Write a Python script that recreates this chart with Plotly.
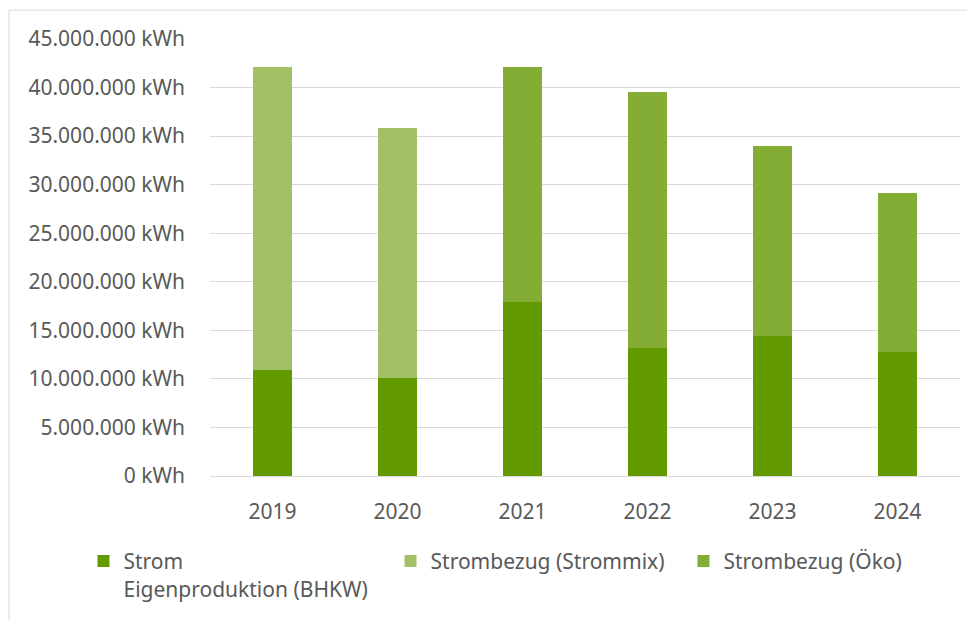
import plotly.graph_objects as go

years = ["2019", "2020", "2021", "2022", "2023", "2024"]
eigen = [10.9e6, 10.06e6, 17.95e6, 13.2e6, 14.45e6, 12.8e6]
strommix = [31.25e6, 25.78e6, None, None, None, None]
oeko = [None, None, 24.2e6, 26.3e6, 19.5e6, 16.3e6]
names = ["Strom<br>Eigenproduktion (BHKW)", "Strombezug (Strommix)", "Strombezug (Öko)"]
colors = ["#639a00", "#a2c167", "#84ad35"]
tickvals = [i * 5e6 for i in range(10)]
ticktext = ["0 kWh", "5.000.000 kWh", "10.000.000 kWh", "15.000.000 kWh",
            "20.000.000 kWh", "25.000.000 kWh", "30.000.000 kWh",
            "35.000.000 kWh", "40.000.000 kWh", "45.000.000 kWh"]

FONT = "Noto Sans"
GREY = "#595959"
FS = 21

legend_ids = ["legend", "legend2", "legend3"]
legend_x = [-0.1687, 0.2407, 0.6313]

fig = go.Figure()
for vals, name, col, lid in zip([eigen, strommix, oeko], names, colors, legend_ids):
    fig.add_trace(go.Bar(x=years, y=vals, name=name, marker_color=col,
                         marker_line_width=0, width=0.31, legend=lid))

leg_common = dict(orientation="h", xanchor="left", y=-0.1486, yanchor="top",
                  font=dict(family=FONT, size=FS, color=GREY),
                  itemwidth=30, valign="top", bgcolor="rgba(0,0,0,0)")
fig.update_layout(
    width=975, height=620,
    barmode="stack",
    plot_bgcolor="white", paper_bgcolor="white",
    margin=dict(l=202, r=23, t=31, b=152),
    font=dict(family=FONT, size=FS, color=GREY),
    showlegend=True,
    legend=dict(x=legend_x[0], **leg_common),
    legend2=dict(x=legend_x[1], **leg_common),
    legend3=dict(x=legend_x[2], **leg_common),
    shapes=[dict(type="rect", xref="paper", yref="paper",
                 x0=-0.268, x1=1.03, y0=-0.38, y1=1.066,
                 line=dict(color="#d9d9d9", width=1), fillcolor="rgba(0,0,0,0)",
                 layer="below")],
)
fig.update_yaxes(range=[0, 45e6], tickvals=tickvals, ticktext=ticktext,
                 showgrid=True, gridcolor="#d9d9d9", gridwidth=1.3,
                 zeroline=False, showline=False, ticklabelstandoff=24,
                 tickfont=dict(family=FONT, size=FS, color=GREY))
fig.update_xaxes(showline=True, linecolor="#d9d9d9", linewidth=1.3,
                 ticklabelstandoff=17, tickfont=dict(family=FONT, size=FS, color=GREY))

fig.write_html("out.html")
